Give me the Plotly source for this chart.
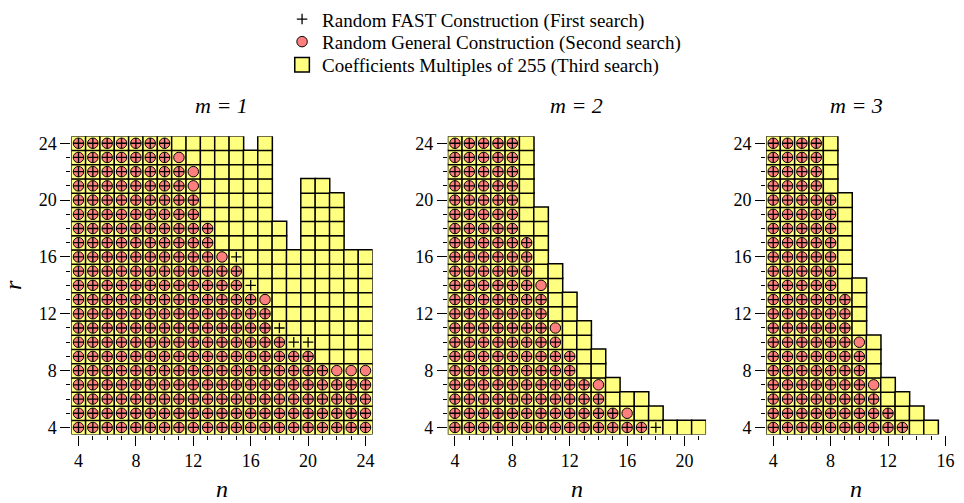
import plotly.graph_objects as go

# ---------------- data (largest r reached for each n) ----------------
m1_n = list(range(4, 25))
m1_third = [24, 24, 24, 24, 24, 24, 24, 24, 24, 24, 24, 24, 23, 24, 18, 16, 21, 21, 20, 16, 16]
m1_second = [24, 24, 24, 24, 24, 24, 24, 23, 22, 18, 16, 15, 13, 13, 10, 9, 9, 8, 8, 8, 8]
m1_first = [24, 24, 24, 24, 24, 24, 24, 22, 20, 18, 15, 16, 14, 12, 11, 10, 10, 8, 7, 7, 7]

m2_n = list(range(4, 22))
m2_third = [24, 24, 24, 24, 24, 24, 19, 15, 13, 11, 9, 7, 6, 6, 5, 4, 4, 4]
m2_second = [24, 24, 24, 24, 24, 17, 14, 11, 9, 7, 7, 5, 5, 4, None, None, None, None]
m2_first = [24, 24, 24, 24, 24, 17, 13, 10, 9, 7, 6, 5, 4, 4, 4, None, None, None]

m3_n = list(range(4, 16))
m3_third = [24, 24, 24, 24, 24, 20, 14, 10, 7, 6, 5, 4]
m3_second = [24, 24, 24, 24, 20, 13, 10, 7, 5, 4, None, None]
m3_first = [24, 24, 24, 24, 20, 13, 9, 6, 5, 4, None, None]

r_min = 4
panel_titles = ["m = 1", "m = 2", "m = 3"]
series_names = [
    "Random FAST Construction (First search)",
    "Random General Construction (Second search)",
    "Coefficients Multiples of 255 (Third search)",
]

panels = [
    (m1_n, m1_first, m1_second, m1_third),
    (m2_n, m2_first, m2_second, m2_third),
    (m3_n, m3_first, m3_second, m3_third),
]


def expand(ns, maxes):
    xs, ys = [], []
    for n, mx in zip(ns, maxes):
        if mx is None:
            continue
        for r in range(r_min, mx + 1):
            xs.append(n)
            ys.append(r)
    return xs, ys


FONT = "Liberation Serif"
W, H = 964, 503
unit = 14.5
y_bot_px, y_top_px = 436.25, 131.75

x_ranges = [[3.5, 24.5], [3.5, 21.5], [3.5, 16.05]]
x_left_px = [70.05, 450.45, 772.05]

fig = go.Figure()

for i, (ns, first, second, third) in enumerate(panels):
    ax = "" if i == 0 else str(i + 1)
    show = i == 0
    xs, ys = expand(ns, third)
    fig.add_trace(go.Scatter(
        x=xs, y=ys, mode="markers", name=series_names[2],
        xaxis="x" + ax, yaxis="y" + ax, showlegend=show, legend="legend3",
        marker=dict(symbol="square", size=14.6, color="#FFFF80",
                    line=dict(color="black", width=1.5)),
        hoverinfo="x+y"))
    xs, ys = expand(ns, second)
    fig.add_trace(go.Scatter(
        x=xs, y=ys, mode="markers", name=series_names[1],
        xaxis="x" + ax, yaxis="y" + ax, showlegend=show, legend="legend2",
        marker=dict(symbol="circle", size=10.5, color="#FF7F7F",
                    line=dict(color="black", width=1)),
        hoverinfo="x+y"))
    xs, ys = expand(ns, first)
    fig.add_trace(go.Scatter(
        x=xs, y=ys, mode="markers", name=series_names[0],
        xaxis="x" + ax, yaxis="y" + ax, showlegend=show, legend="legend",
        marker=dict(symbol="cross-thin", size=7.5, color="black",
                    line=dict(color="black", width=1.3)),
        hoverinfo="x+y"))

tickfont = dict(family=FONT, size=18, color="black")
legfont = dict(family=FONT, size=19, color="black")


def leg(row_px):
    return dict(x=283 / W, y=1 - row_px / H, xanchor="left", yanchor="middle",
                font=legfont, bgcolor="rgba(0,0,0,0)", itemsizing="trace",
                borderwidth=0)


layout = dict(
    width=W, height=H, margin=dict(l=0, r=0, t=0, b=0),
    paper_bgcolor="white", plot_bgcolor="white",
    font=dict(family=FONT, color="black"),
    showlegend=True,
    legend=leg(12.5), legend2=leg(35.5), legend3=leg(59.0),
)

y_dom = [1 - y_bot_px / H, 1 - y_top_px / H]
annotations = []
for i in range(3):
    ax = "" if i == 0 else str(i + 1)
    xr = x_ranges[i]
    left = x_left_px[i]
    right = left + (xr[1] - xr[0]) * unit
    layout["xaxis" + ax] = dict(
        domain=[left / W, right / W], range=xr, anchor="y" + ax,
        showgrid=False, zeroline=False, showline=False,
        ticks="outside", tickmode="linear", tick0=4, dtick=4,
        ticklen=10, tickwidth=1, tickcolor="black",
        minor=dict(ticks="outside", dtick=1, tick0=4, ticklen=4,
                   tickwidth=1, tickcolor="black", showgrid=False),
        tickfont=tickfont,
        title=dict(text="<i>n</i>", font=dict(family=FONT, size=24), standoff=10),
    )
    layout["yaxis" + ax] = dict(
        domain=y_dom, range=[3.5, 24.5], anchor="x" + ax,
        showgrid=False, zeroline=False, showline=False,
        ticks="outside", tickmode="linear", tick0=4, dtick=4,
        ticklen=10, tickwidth=1, tickcolor="black",
        minor=dict(ticks="outside", dtick=1, tick0=4, ticklen=4,
                   tickwidth=1, tickcolor="black", showgrid=False),
        tickfont=tickfont,
        title=dict(text="<i>r</i>" if i == 0 else "",
                   font=dict(family=FONT, size=24), standoff=22),
    )
    annotations.append(dict(
        text="<i>" + panel_titles[i] + "</i>", x=(left + right) / 2 / W,
        y=1 - 101 / H, xref="paper", yref="paper", showarrow=False,
        xanchor="center", yanchor="middle",
        font=dict(family=FONT, size=22, color="black")))

layout["annotations"] = annotations
fig.update_layout(**layout)
fig.write_html("out.html")
